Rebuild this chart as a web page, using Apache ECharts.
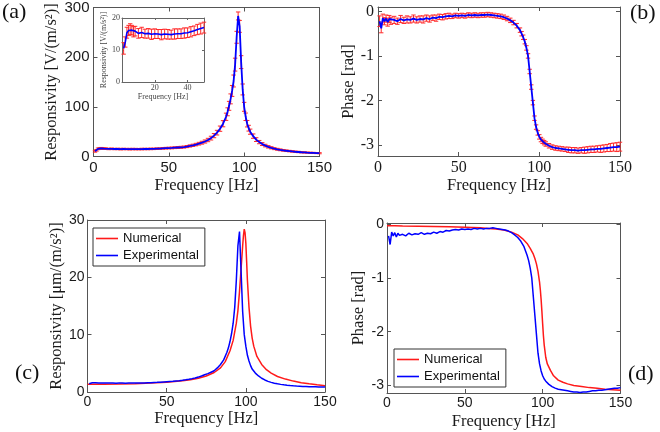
<!DOCTYPE html>
<html lang="en">
<head>
<meta charset="UTF-8">
<title>Responsivity and phase</title>
<script src="https://cdn.jsdelivr.net/npm/echarts@6/dist/echarts.min.js"></script>
<style>html,body{margin:0;padding:0;background:#fff;}</style>
</head>
<body>
<div id="pic" style="width:660px;height:432px;"></div>
<script>
// measured frequencies (Hz), shared by all experimental curves
var expFreq = [1,2,3,4,5,6,7,8,
    10,12,14,16,18,20,22,24,26,28,30,32,34,36,38,40,42,44,46,48,
    50,52,54,56,58,60,62,64,66,68,70,72,74,76,78,80,82,84,86,88,
    89,90,91,92,93,94,95,96,97,98,99,100,101,102,103,104,
    106,108,110,112,114,116,118,120,122,124,126,128,130,132,134,136,138,140,142,144,146,148,150];

// (a) responsivity V/(m/s^2) and its error bar half widths
var respA = [10.5,12.5,15.4,16.1,16.5,16.2,15.7,15.9,
    15.2,15.5,15.1,15.2,14.9,15.1,15.0,14.8,15.0,14.9,14.8,15.0,15.1,15.1,15.3,15.4,15.7,16.0,16.4,16.7,
    17,17.3,17.7,18.1,18.5,19,20,21.2,22.5,24,25.8,27.8,30.2,33.2,37,42,48,56,66,80,
    90,102,116,132,152,185,240,283,262,190,135,100,80,66,57,50,
    41,34,29,25,22,19.5,17.5,15.8,14.5,13.4,12.4,11.6,10.9,10.2,9.6,9.1,8.6,8.2,7.8,7.5,7.2,6.9,6.6];
var errA = [1.8,1.6,1.7,1.6,1.7,1.5,1.6,1.5,
    1.5,1.6,1.4,1.5,1.6,1.5,1.4,1.6,1.5,1.5,1.4,1.6,1.5,1.5,1.6,1.5,1.6,1.5,1.6,1.7,
    1.7,1.8,1.8,1.9,2.0,2.0,2.1,2.2,2.3,2.5,2.7,2.9,3.1,3.4,3.8,4.2,4.7,5.3,6.2,7.3,
    8,9,10,11,12,13,12,8,12,13,11,9,7.5,6.5,5.8,5.2,
    4.4,3.8,3.3,2.9,2.6,2.4,2.2,2.0,1.9,1.8,1.7,1.6,1.5,1.5,1.4,1.4,1.3,1.3,1.2,1.2,1.2,1.1,1.1];

// (b)/(d) measured phase (rad) and (b) error half widths
var phaseExp = [-0.22,-0.38,-0.15,-0.22,-0.16,-0.24,-0.17,-0.21,
    -0.19,-0.22,-0.17,-0.2,-0.18,-0.19,-0.16,-0.19,-0.17,-0.18,-0.15,-0.17,-0.14,-0.15,-0.12,-0.13,-0.11,-0.1,-0.11,-0.09,
    -0.1,-0.09,-0.1,-0.08,-0.09,-0.08,-0.09,-0.08,-0.08,-0.07,-0.08,-0.09,-0.1,-0.11,-0.13,-0.16,-0.2,-0.25,-0.32,-0.42,
    -0.5,-0.58,-0.68,-0.82,-1.0,-1.35,-1.7,-2.05,-2.4,-2.6,-2.73,-2.82,-2.88,-2.92,-2.95,-2.98,
    -3.02,-3.05,-3.07,-3.08,-3.09,-3.1,-3.11,-3.12,-3.12,-3.13,-3.12,-3.12,-3.11,-3.1,-3.1,-3.09,-3.09,-3.08,-3.07,-3.06,-3.05,-3.05,-3.04];
var errB = [0.12,0.1,0.09,0.08,0.08,0.09,0.08,0.08,
    0.08,0.07,0.08,0.07,0.08,0.07,0.08,0.07,0.07,0.08,0.07,0.07,0.06,0.07,0.06,0.06,0.06,0.06,0.05,0.05,
    0.05,0.05,0.05,0.05,0.05,0.05,0.05,0.05,0.05,0.05,0.05,0.05,0.05,0.05,0.05,0.05,0.05,0.05,0.05,0.05,
    0.05,0.05,0.05,0.05,0.05,0.05,0.05,0.05,0.05,0.05,0.05,0.05,0.05,0.05,0.05,0.05,
    0.05,0.05,0.05,0.05,0.05,0.05,0.06,0.06,0.06,0.06,0.06,0.07,0.07,0.07,0.07,0.07,0.08,0.08,0.08,0.09,0.09,0.1,0.1];

// (c) measured responsivity um/(m/s^2)
var respC = [1.45,1.5,1.6,1.65,1.6,1.62,1.55,1.6,
    1.56,1.58,1.55,1.56,1.54,1.55,1.55,1.54,1.55,1.55,1.55,1.56,1.57,1.58,1.6,1.62,1.65,1.68,1.72,1.76,
    1.8,1.84,1.88,1.93,1.98,2.05,2.13,2.22,2.33,2.45,2.6,2.78,3.0,3.2,3.45,3.7,4.2,4.8,5.6,6.9,
    7.7,8.8,10.2,12.0,14.8,19.5,25.5,28.0,21,14,10,8,6.4,5.4,4.6,4.0,
    3.3,2.8,2.4,2.1,1.85,1.68,1.53,1.42,1.33,1.25,1.18,1.12,1.07,1.03,1.0,0.97,0.95,0.93,0.91,0.9,0.88,0.87,0.86];

// numerical model
var numFreq = [0,5,10,20,30,40,50,60,65,70,75,80,84,87,90,92,94,95,96,97,
    98,98.5,99,99.5,100,100.5,101,102,103,104,105,107,110,113,116,120,125,130,135,140,145,150];
var numResp = [1.35,1.36,1.37,1.4,1.45,1.55,1.7,1.95,2.15,2.4,2.8,3.4,4.2,5.3,7.2,9,12,14.2,17.5,21.5,
    25.5,27.3,28.4,27.8,26,22.8,19.5,14.8,11.5,9.4,8,6.2,4.8,3.9,3.3,2.7,2.25,1.9,1.62,1.42,1.25,1.1];
var numPhase = [-0.03,-0.03,-0.035,-0.04,-0.045,-0.05,-0.06,-0.07,-0.08,-0.09,-0.11,-0.15,-0.2,-0.27,-0.36,-0.45,-0.56,-0.64,-0.74,-0.88,
    -1.08,-1.22,-1.4,-1.62,-1.86,-2.08,-2.25,-2.48,-2.6,-2.66,-2.72,-2.82,-2.9,-2.94,-2.97,-3.0,-3.02,-3.04,-3.05,-3.07,-3.08,-3.09];

// tick values
var freqTicks = [0,50,100,150];
var respATicks = [0,100,200,300];
var insetXTicks = [0,20,40], insetXLabels = [20,40], insetYTicks = [0,10,20];
var phaseTicks = [-3,-2,-1,0];
var respCTicks = [0,10,20,30];

var SERIF = 'Liberation Serif', SANS = 'Liberation Sans';
var myChart = echarts.init(document.getElementById('pic'));

function pairs(xs, ys, lim) {
    var out = [];
    for (var i = 0; i < xs.length; i++) if (lim == null || xs[i] <= lim) out.push([xs[i], ys[i]]);
    return out;
}
function triples(xs, ys, es, lim) {
    var out = [];
    for (var i = 0; i < xs.length; i++) if (lim == null || xs[i] <= lim) out.push([xs[i], ys[i], es[i]]);
    return out;
}

// red error bar with caps
function errItem(params, api) {
    var x = api.value(0), y = api.value(1), e = api.value(2);
    var lo = api.coord([x, y - e]), hi = api.coord([x, y + e]);
    var w = 2.2, st = {stroke: '#ff2a2a', lineWidth: 1};
    return {type: 'group', children: [
        {type: 'line', shape: {x1: lo[0], y1: lo[1], x2: hi[0], y2: hi[1]}, style: st},
        {type: 'line', shape: {x1: lo[0] - w, y1: lo[1], x2: lo[0] + w, y2: lo[1]}, style: st},
        {type: 'line', shape: {x1: hi[0] - w, y1: hi[1], x2: hi[0] + w, y2: hi[1]}, style: st}
    ]};
}

var grids = [], xAxes = [], yAxes = [], series = [];

// one matlab style box: bottom/left axes with labels, top/right mirrors with ticks only
function panel(o) {
    grids.push({left: o.box[0], top: o.box[1], width: o.box[2], height: o.box[3],
        show: true, backgroundColor: '#fff', borderWidth: 0});
    var g = grids.length - 1;
    var line = {show: true, onZero: false, lineStyle: {color: o.boxColor || '#555', width: 1}};
    var tk = function (vals) {
        return {show: true, inside: true, length: o.tick || 4, customValues: vals, lineStyle: {color: o.boxColor || '#555'}};
    };
    var lab = {fontFamily: o.font, fontSize: o.size, color: o.labColor || '#1a1a1a'};
    var nameStyle = {fontFamily: SERIF, fontSize: o.nameSize || 16.5, color: o.labColor || '#1a1a1a'};
    var xi = xAxes.length, yi = yAxes.length;
    xAxes.push({type: 'value', gridIndex: g, position: 'bottom', min: o.x[0], max: o.x[1],
        axisLine: line, axisTick: tk(o.xt), splitLine: {show: false},
        axisLabel: Object.assign({customValues: o.xl || o.xt, margin: o.xm}, lab),
        name: o.xname, nameLocation: 'middle', nameGap: o.xgap, nameTextStyle: nameStyle});
    xAxes.push({type: 'value', gridIndex: g, position: 'top', min: o.x[0], max: o.x[1],
        axisLine: line, axisTick: tk(o.xt), axisLabel: {show: false}, splitLine: {show: false}});
    yAxes.push({type: 'value', gridIndex: g, position: 'left', min: o.y[0], max: o.y[1],
        axisLine: line, axisTick: tk(o.yt), splitLine: {show: false},
        axisLabel: Object.assign({customValues: o.yt, margin: o.ym}, lab),
        name: o.yname, nameLocation: 'middle', nameGap: o.ygap, nameTextStyle: nameStyle});
    yAxes.push({type: 'value', gridIndex: g, position: 'right', min: o.y[0], max: o.y[1],
        axisLine: line, axisTick: tk(o.yt), axisLabel: {show: false}, splitLine: {show: false}});
    return {x: xi, y: yi};
}

function errSeries(ax, data) {
    series.push({type: 'custom', xAxisIndex: ax.x, yAxisIndex: ax.y, renderItem: errItem,
        encode: {x: 0, y: 1}, data: data, silent: true, z: 2});
}
function lineSeries(ax, name, data, color, width, z) {
    series.push({type: 'line', name: name, xAxisIndex: ax.x, yAxisIndex: ax.y, data: data,
        symbol: 'none', showSymbol: false, silent: true, z: z || 3,
        lineStyle: {color: color, width: width}, itemStyle: {color: color}});
}

// (a)
var A = panel({box: [93.5, 7, 226, 149.5], x: [0, 150], xt: freqTicks, y: [0, 300], yt: respATicks,
    font: SANS, size: 15, xm: 4, ym: 4, xname: 'Frequency [Hz]', xgap: 21,
    yname: 'Responsivity [V/(m/s²)]', ygap: 26});
errSeries(A, triples(expFreq, respA, errA));
lineSeries(A, 'Measured A', pairs(expFreq, respA), '#0000ff', 1.8);

// inset of (a)
var I = panel({box: [122, 18, 82, 64], x: [0, 50], xt: insetXTicks, xl: insetXLabels, y: [0, 20], yt: insetYTicks,
    font: SERIF, size: 8, xm: 2, ym: 2, tick: 2, boxColor: '#666', labColor: '#444', nameSize: 8,
    xname: 'Frequency [Hz]', xgap: 9, yname: 'Responsivity [V/(m/s²)]', ygap: 10});
errSeries(I, triples(expFreq, respA, errA, 50));
lineSeries(I, 'Measured A', pairs(expFreq, respA, 50), '#0000ff', 1.6);

// (b)
var B = panel({box: [378, 7, 242, 149], x: [0, 150], xt: freqTicks, y: [-3.25, 0.1], yt: phaseTicks,
    font: SERIF, size: 16, xm: 4, ym: 4, xname: 'Frequency [Hz]', xgap: 20,
    yname: 'Phase [rad]', ygap: 20});
errSeries(B, triples(expFreq, phaseExp, errB));
lineSeries(B, 'Measured B', pairs(expFreq, phaseExp), '#0000ff', 1.8);

// (c)
var C = panel({box: [87.5, 220, 237.5, 172], x: [0, 150], xt: freqTicks, y: [0, 30], yt: respCTicks,
    font: SANS, size: 14, xm: 3, ym: 3, xname: 'Frequency [Hz]', xgap: 15,
    yname: 'Responsivity [μm/(m/s²)]', ygap: 19});
lineSeries(C, 'Numerical', pairs(numFreq, numResp), '#ff1a1a', 1.5, 3);
lineSeries(C, 'Experimental', pairs(expFreq, respC), '#0000ff', 1.5, 4);

// (d)
var D = panel({box: [387, 223, 233.5, 170], x: [0, 150], xt: freqTicks, y: [-3.14, 0.02], yt: phaseTicks,
    font: SANS, size: 14, xm: 3, ym: 3, xname: 'Frequency [Hz]', xgap: 20,
    yname: 'Phase [rad]', ygap: 20});
lineSeries(D, 'Numerical', pairs(numFreq, numPhase), '#ff1a1a', 1.5, 3);
lineSeries(D, 'Experimental', pairs(expFreq, phaseExp), '#0000ff', 1.5, 4);

var panelTitle = {fontFamily: SERIF, fontSize: 22, fontWeight: 'normal', color: '#111'};
var legendBase = {data: ['Numerical', 'Experimental'], orient: 'vertical', icon: 'rect',
    itemWidth: 22, itemHeight: 1.6, itemGap: 2, padding: [3, 6, 3, 3],
    borderColor: '#333', borderWidth: 1, backgroundColor: '#fff', selectedMode: false,
    textStyle: {fontFamily: SANS, fontSize: 13, color: '#111', lineHeight: 15}};

myChart.setOption({
    animation: false,
    backgroundColor: '#fff',
    title: [
        {text: '(a)', left: 2, top: 1, padding: 0, textStyle: panelTitle},
        {text: '(b)', left: 630, top: 2, padding: 0, textStyle: panelTitle},
        {text: '(c)', left: 15, top: 362, padding: 0, textStyle: panelTitle},
        {text: '(d)', left: 628, top: 363, padding: 0, textStyle: panelTitle}
    ],
    legend: [
        Object.assign({left: 93, top: 228}, legendBase),
        Object.assign({left: 394, top: 349}, legendBase)
    ],
    grid: grids,
    xAxis: xAxes,
    yAxis: yAxes,
    series: series
});
</script>
</body>
</html>
